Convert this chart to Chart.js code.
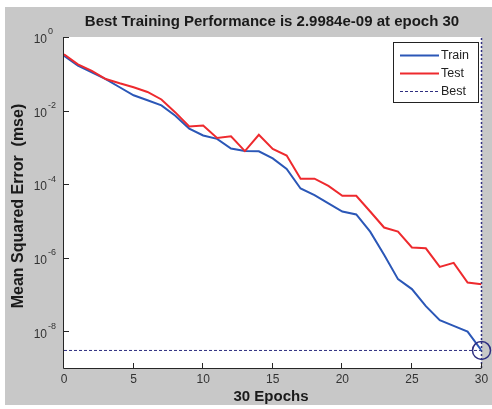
<!DOCTYPE html>
<html><head><meta charset="utf-8">
<script src="https://cdn.jsdelivr.net/npm/chart.js@4.4.0/dist/chart.umd.min.js"></script>
<style>html,body{margin:0;padding:0;background:#fff;}#wrap{width:492px;height:409px;}</style>
</head><body><div id="wrap"><canvas id="c" width="492" height="409"></canvas></div>
<script>
const epochs = [0,1,2,3,4,5,6,7,8,9,10,11,12,13,14,15,16,17,18,19,20,21,22,23,24,25,26,27,28,29,30];
const trainMSE = [0.31,0.166,0.11,0.072,0.043,0.026,0.019,0.0138,0.0072,0.0032,0.0021,0.0017,9.3e-4,7.9e-4,7.8e-4,5.0e-4,2.6e-4,7.6e-5,5.0e-5,3.0e-5,1.8e-5,1.5e-5,5.1e-6,1.2e-6,2.6e-7,1.4e-7,4.8e-8,2.0e-8,1.4e-8,9.8e-9,2.9984e-9];
const testMSE = [0.34,0.18,0.12,0.072,0.055,0.043,0.032,0.020,0.0089,0.0037,0.0039,0.0018,0.0020,7.9e-4,0.0022,9.1e-4,6.0e-4,1.4e-4,1.4e-4,8.9e-5,4.8e-5,4.8e-5,1.8e-5,6.6e-6,5.1e-6,1.9e-6,1.8e-6,5.6e-7,7.2e-7,2.1e-7,1.9e-7];
const bestEpoch = 30;
const bestPerf = 2.9984e-9;
const xTickValues = [0,5,10,15,20,25,30];
const yTickValues = [1,1e-2,1e-4,1e-6,1e-8];
const yTickExponents = ['0','-2','-4','-6','-8'];
const titleText = 'Best Training Performance is 2.9984e-09 at epoch 30';
const xTitle = '30 Epochs';
const yTitle = 'Mean Squared Error  (mse)';
const legendLabels = ['Train','Test','Best'];

const FONT = "'Liberation Sans', Arial, sans-serif";
const BLUE = '#2b57b7';
const RED = '#ee2a2e';
const NAVY = '#2e2e80';
const GRAY = '#c8c8c8';

const yMin = 1e-9, yMax = 1;

const framePlugin = {
  id: 'matlabFrame',
  beforeDraw(chart) {
    const ctx = chart.ctx, a = chart.chartArea;
    ctx.save();
    ctx.fillStyle = '#ffffff';
    ctx.fillRect(0, 0, chart.width, chart.height);
    ctx.fillStyle = GRAY;
    ctx.fillRect(5, 7, chart.width - 5, 398);
    ctx.fillStyle = '#ffffff';
    ctx.fillRect(a.left, a.top, a.right - a.left, a.bottom - a.top);
    ctx.restore();
  },
  afterDraw(chart) {
    const ctx = chart.ctx, a = chart.chartArea;
    const xs = chart.scales.x, ys = chart.scales.y;
    ctx.save();
    ctx.strokeStyle = '#262626';
    ctx.lineWidth = 1;
    ctx.beginPath();
    ctx.moveTo(a.left - 0.5, a.top);
    ctx.lineTo(a.left - 0.5, a.bottom + 0.5);
    ctx.lineTo(a.right, a.bottom + 0.5);
    ctx.stroke();
    ctx.beginPath();
    yTickValues.forEach(v => {
      const y = Math.round(ys.getPixelForValue(v)) + 0.5;
      ctx.moveTo(a.left, y);
      ctx.lineTo(a.left + 5, y);
    });
    xTickValues.forEach(v => {
      const x = Math.round(xs.getPixelForValue(v)) - 0.5;
      ctx.moveTo(x, a.bottom);
      ctx.lineTo(x, a.bottom - 5);
    });
    ctx.stroke();
    ctx.fillStyle = '#333333';
    yTickValues.forEach((v, i) => {
      const y = ys.getPixelForValue(v);
      ctx.font = '12px ' + FONT;
      ctx.textAlign = 'right';
      ctx.textBaseline = 'middle';
      ctx.fillText('10', 47, y + 3);
      ctx.font = '9px ' + FONT;
      ctx.textAlign = 'left';
      ctx.fillText(yTickExponents[i], 48, y - 5);
    });
    ctx.font = '12px ' + FONT;
    ctx.textAlign = 'center';
    ctx.textBaseline = 'middle';
    xTickValues.forEach(v => {
      ctx.fillText(String(v), xs.getPixelForValue(v), 380);
    });
    ctx.fillStyle = '#1a1a1a';
    ctx.font = 'bold 15px ' + FONT;
    ctx.textAlign = 'center';
    ctx.fillText(titleText, 272, 22);
    ctx.fillText(xTitle, 271, 397);
    ctx.save();
    ctx.translate(19, 206);
    ctx.rotate(-Math.PI / 2);
    ctx.font = 'bold 16px ' + FONT;
    ctx.fillText(yTitle, 0, 0);
    ctx.restore();
    const lx = 393.5, ly = 42.5, lw = 85, lh = 60;
    ctx.fillStyle = '#ffffff';
    ctx.fillRect(lx, ly, lw, lh);
    ctx.strokeStyle = '#222222';
    ctx.lineWidth = 1;
    ctx.strokeRect(lx, ly, lw, lh);
    const rows = [55, 73, 91];
    const styles = [
      {c: BLUE, w: 2, d: []},
      {c: RED, w: 2, d: []},
      {c: NAVY, w: 1, d: [3, 2]}
    ];
    rows.forEach((ry, i) => {
      ctx.strokeStyle = styles[i].c;
      ctx.lineWidth = styles[i].w;
      ctx.setLineDash(styles[i].d);
      ctx.beginPath();
      ctx.moveTo(400, ry + 0.5);
      ctx.lineTo(439, ry + 0.5);
      ctx.stroke();
      ctx.setLineDash([]);
      ctx.fillStyle = '#222222';
      ctx.font = '12.5px ' + FONT;
      ctx.textAlign = 'left';
      ctx.textBaseline = 'middle';
      ctx.fillText(legendLabels[i], 441, ry + 1);
    });
    ctx.restore();
  }
};

new Chart(document.getElementById('c'), {
  type: 'line',
  data: {
    datasets: [
      {label: legendLabels[1], data: epochs.map((e, i) => ({x: e, y: testMSE[i]})), borderColor: RED, borderWidth: 2, pointRadius: 0, tension: 0, order: 0},
      {label: legendLabels[0], data: epochs.map((e, i) => ({x: e, y: trainMSE[i]})), borderColor: BLUE, borderWidth: 2, pointRadius: 0, tension: 0, order: 1},
      {label: legendLabels[2], data: [{x: 0, y: bestPerf}, {x: bestEpoch, y: bestPerf}], borderColor: NAVY, borderWidth: 1, borderDash: [3, 2], pointRadius: 0, order: 2, clip: false},
      {label: 'bestV', data: [{x: bestEpoch, y: yMin}, {x: bestEpoch, y: yMax}], borderColor: NAVY, borderWidth: 1.5, borderDash: [2, 2], pointRadius: 0, order: 2, clip: false},
      {label: 'bestMarker', data: [{x: bestEpoch, y: bestPerf}], showLine: false, pointRadius: 9, pointBorderColor: NAVY, pointBorderWidth: 1.5, pointBackgroundColor: 'rgba(0,0,0,0)', order: -1, clip: false}
    ]
  },
  options: {
    responsive: false,
    animation: false,
    devicePixelRatio: 1,
    layout: {padding: {top: 37, right: 9, left: 0, bottom: 0}},
    plugins: {legend: {display: false}, title: {display: false}, tooltip: {enabled: false}},
    scales: {
      x: {type: 'linear', min: 0, max: 30, ticks: {display: false}, grid: {display: false}, border: {display: false}, afterFit(s) { s.height = 41; }},
      y: {type: 'logarithmic', min: yMin, max: yMax, ticks: {display: false}, grid: {display: false}, border: {display: false}, afterFit(s) { s.width = 64; }}
    }
  },
  plugins: [framePlugin]
});
</script>
</body></html>
